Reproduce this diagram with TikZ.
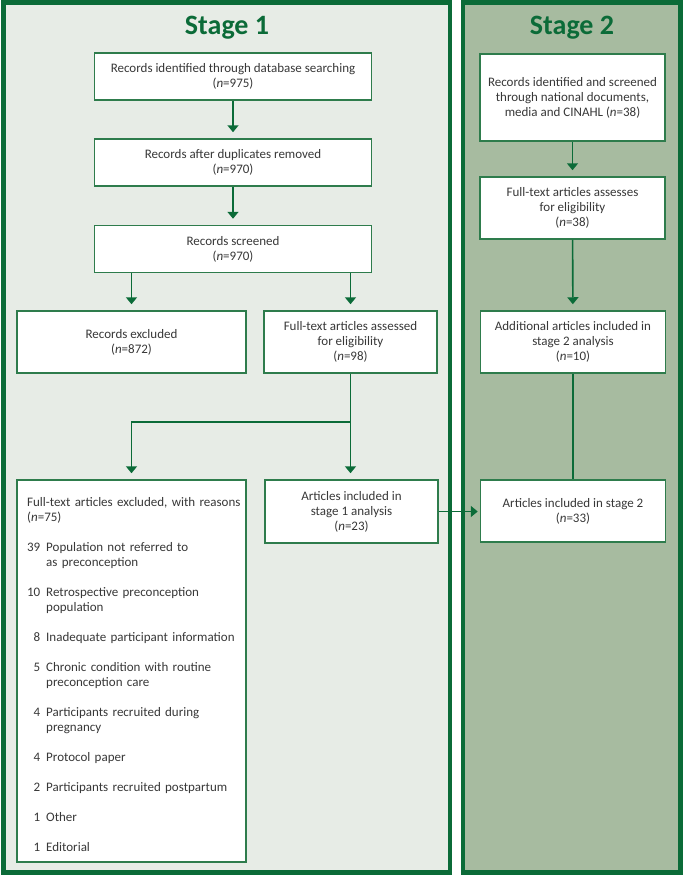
\documentclass[tikz,border=0pt]{standalone}
\usepackage{fontspec}
\setmainfont{Carlito}
\usetikzlibrary{arrows.meta}
\definecolor{framegreen}{HTML}{0B6B38}
\definecolor{boxgreen}{HTML}{2E7C4C}
\definecolor{stageonefill}{HTML}{E7ECE6}
\definecolor{stagetwofill}{HTML}{A7BBA0}
\definecolor{txt}{HTML}{383838}
\newcommand{\itm}[2]{\makebox[13pt][r]{#1}\hspace{6pt}#2}
\newcommand{\cont}[1]{\hspace*{19pt}#1}
\begin{document}
\begin{tikzpicture}[x=1pt,y=-1pt,
  frame/.style={draw=framegreen,line width=4.5pt},
  box/.style={draw=boxgreen,line width=1.5pt,fill=white,inner sep=0pt,align=center,text=txt,font=\fontsize{13}{15}\selectfont},
  conn/.style={draw=framegreen,line width=1.6pt},
  arr/.style={conn,-{Triangle[width=11pt,length=7pt]},shorten >=6pt},
  title/.style={text=framegreen,font=\fontsize{28}{30}\selectfont\bfseries,anchor=base,inner sep=0pt}]
\useasboundingbox (0,0) rectangle (685,878);
\path[frame,fill=stageonefill] (3.5,2.25) rectangle (450,872.5);
\path[frame,fill=stagetwofill] (463,2.25) rectangle (680.5,872.5);

\node[title] (t1) at (227,34) {Stage 1};
\node[title] (t2) at (572,34) {Stage 2};

% Stage 1
\node[box,minimum width=277pt,minimum height=47pt] (b1) at (233,76.5) {Records identified through database searching\\(\textit{n}=975)};
\node[box,minimum width=277pt,minimum height=47pt] (b2) at (233,162.5) {Records after duplicates removed\\(\textit{n}=970)};
\node[box,minimum width=277pt,minimum height=47pt] (b3) at (233,249) {Records screened\\(\textit{n}=970)};
\node[box,minimum width=229pt,minimum height=62pt] (b4) at (131.5,342) {Records excluded\\(\textit{n}=872)};
\node[box,minimum width=173pt,minimum height=62pt] (b5) at (350.5,342) {Full-text articles assessed\\for eligibility\\(\textit{n}=98)};
\node[box,minimum width=229pt,minimum height=382pt] (b6) at (131.5,671) {};
\node[anchor=north west,inner sep=0pt,text width=215pt,align=left,text=txt,font=\fontsize{13}{15}\selectfont] (b6text) at (27,495.5) {\noindent\strut Full-text articles excluded, with reasons\\
(\textit{n}=75)\\[15pt]
\itm{39}{Population not referred to}\\
\cont{as preconception}\\[15pt]
\itm{10}{Retrospective preconception}\\
\cont{population}\\[15pt]
\itm{8}{Inadequate participant information}\\[15pt]
\itm{5}{Chronic condition with routine}\\
\cont{preconception care}\\[15pt]
\itm{4}{Participants recruited during}\\
\cont{pregnancy}\\[15pt]
\itm{4}{Protocol paper}\\[15pt]
\itm{2}{Participants recruited postpartum}\\[15pt]
\itm{1}{Other}\\[15pt]
\itm{1}{Editorial}};
\node[box,minimum width=173pt,minimum height=63pt] (b7) at (351.5,511.5) {Articles included in\\stage 1 analysis\\(\textit{n}=23)};

% Stage 2
\node[box,minimum width=185pt,minimum height=87pt] (c1) at (572.5,97.5) {Records identified and screened\\through national documents,\\media and CINAHL (\textit{n}=38)};
\node[box,minimum width=185pt,minimum height=62pt] (c2) at (572.5,208) {Full-text articles assesses\\for eligibility\\(\textit{n}=38)};
\node[box,minimum width=185pt,minimum height=62pt] (c3) at (573,342) {Additional articles included in\\stage 2 analysis\\(\textit{n}=10)};
\node[box,minimum width=185pt,minimum height=62pt] (c4) at (573,511) {Articles included in stage 2\\(\textit{n}=33)};

% connectors
\draw[arr] (b1) -- (b2);
\draw[arr] (b2) -- (b3);
\draw[arr] (b3.south -| b4.north) -- (b4.north);
\draw[arr] (b3.south -| b5.north) -- (b5.north);
\coordinate (split) at (b5.south |- 0,422);
\draw[arr] (b5.south) -- (b5.south |- b7.north);
\draw[arr] (split) -| (b6.north);
\draw[arr,shorten >=2pt] (b7.east) -- (b7.east -| c4.west);
\draw[arr] (c1) -- (c2);
\draw[arr] (c2) -- (c3);
\draw[conn] (c3) -- (c4);
\end{tikzpicture}
\end{document}
